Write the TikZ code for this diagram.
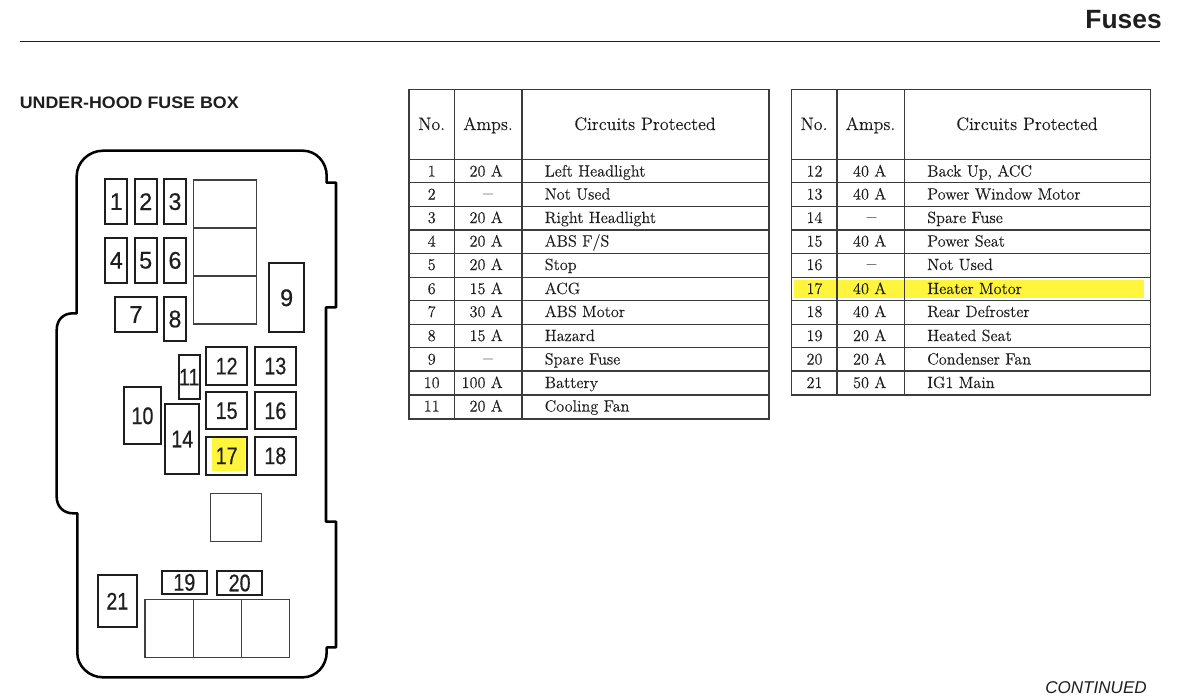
\documentclass[tikz,border=0pt]{standalone}
\usepackage{fontspec}
\setmainfont{Latin Modern Roman}[FakeBold=0.2]
\newfontfamily\sansf{Liberation Sans}
\newfontfamily\numf{Liberation Sans}[FakeStretch=0.97,FakeBold=0.5]
\newfontfamily\numn{Liberation Sans}[FakeStretch=0.82,FakeBold=0.5]
\newfontfamily\titlef{Liberation Sans}[FakeStretch=1.07]
\definecolor{hl}{RGB}{255,245,60}
\definecolor{ink}{RGB}{30,30,30}
\definecolor{tline}{RGB}{60,60,60}
\newcommand{\fz}[1]{\fontsize{#1}{#1}\selectfont}
\newcommand{\nodash}{{\fz{15.5}--}\hspace*{7.5pt}}
\tikzset{
  x=0.75pt,y=-0.75pt,
  fuse/.style={draw=ink,line width=1.6pt,line join=miter},
  relay/.style={draw=ink!85,line width=0.8pt},
  fusenum/.style={font=\numf\fz{18},text=ink,inner sep=0pt,anchor=center},
  fusenumw/.style={font=\numn\fz{18},text=ink,inner sep=0pt,anchor=center},
  tcell/.style={font=\fz{12.2},text=ink,inner sep=0pt,anchor=base},
  tamps/.style={font=\fz{12.2},text=ink,inner sep=0pt,anchor=base east},
  tleft/.style={font=\fz{12.2},text=ink,inner sep=0pt,anchor=base west},
  thead/.style={font=\fz{13.5},text=ink,inner sep=0pt,anchor=base},
  tgrid/.style={draw=tline,line width=0.8pt},
}
% \fusebox{name}{x0}{y0}{x1}{y1}{label}
\newcommand{\fusebox}[6]{%
  \draw[fuse] (#2,#3) rectangle (#4,#5);
  \node[fusenum] (#1) at ({(#2+#4)/2},{(#3+#5)/2}) {#6};
}
\newcommand{\fuseboxw}[6]{%
  \draw[fuse] (#2,#3) rectangle (#4,#5);
  \node[fusenumw] (#1) at ({(#2+#4)/2},{(#3+#5)/2}) {#6};
}
% \trow{y baseline}{x1}{x2}{x3}{no}{amps}{circuit}
\newcommand{\trow}[7]{%
  \node[tcell] at (#2,#1) {#5};
  \node[tamps] at (#3,#1) {#6};
  \node[tleft] at (#4,#1) {#7};
}
\newcommand{\tgridlines}[5]{%
  \draw[tgrid] (#1,89.3) rectangle (#4,#5);
  \draw[tgrid] (#2,89.3) -- (#2,#5);
  \draw[tgrid] (#3,89.3) -- (#3,#5);
  \foreach \yy in {159.3,182.7,206.7,230,253.3,277.3,300.7,324.3,347.7,371,395}{
    \ifdim \yy pt<#5 pt \draw[tgrid] (#1,\yy) -- (#4,\yy);\fi
  }
}
\begin{document}
\begin{tikzpicture}
\useasboundingbox (0,0) rectangle (1184,697);
\clip (0,0) rectangle (1184,697);
\fill[white] (0,0) rectangle (1184,697);
% header
\node[font=\sansf\bfseries\fz{19.8},text=ink,inner sep=0pt,anchor=base east] (fuses) at (1162,28) {Fuses};
\coordinate (ruleL) at (20,41);
\coordinate (ruleR) at (1160,41);
\draw[draw=ink,line width=0.6pt] (ruleL) -- (ruleR);
\node[font=\titlef\bfseries\fz{12.5},text=ink,inner sep=0pt,anchor=base west] (title) at (19.5,108) {UNDER-HOOD FUSE BOX};
\node[font=\sansf\itshape\fz{12.8},text=ink,inner sep=0pt,anchor=base east] (cont) at (1147,693) {CONTINUED};
% outline
\draw[draw=black,line width=1.9pt,line join=round]
 (103,150.7) -- (303,150.7)
 .. controls (316,150.7) and (326.7,162) .. (326.7,176) -- (326.7,182.7)
 -- (336,182.7) -- (336,307.3) -- (326,307.3) -- (326,521.7) -- (336,521.7)
 -- (336,647.3) -- (326.7,647.3) -- (326.7,652)
 .. controls (326.7,666) and (316,677.3) .. (303,677.3)
 -- (103,677.3)
 .. controls (89,677.3) and (77.3,666) .. (77.3,653)
 -- (77.3,513.3) -- (73,513.3)
 .. controls (63,513.3) and (56.7,506) .. (56.7,497)
 -- (56.7,330)
 .. controls (56.7,320) and (63,313.3) .. (73,313.3) -- (76.7,313.3)
 -- (76.7,176)
 .. controls (76.7,162) and (89,150.7) .. (103,150.7) -- cycle;
% highlight
\fill[hl] (212.3,438.3) rectangle (245,470.7);
% relays
\draw[relay] (193.7,180) rectangle (256.7,324);
\draw[relay] (193.7,228) -- (256.7,228);
\draw[relay] (193.7,276) -- (256.7,276);
\draw[relay] (210.7,493.3) rectangle (261.7,541.3);
\draw[relay] (145,599.3) rectangle (289.3,657.3);
\draw[relay] (193.3,599.3) -- (193.3,657.3);
\draw[relay] (241.3,599.3) -- (241.3,657.3);
% fuses
\fusebox{f1}{105.3}{179.3}{127.3}{224}{1}
\fusebox{f2}{134.7}{179.3}{156.7}{224}{2}
\fusebox{f3}{164}{179.3}{186}{224}{3}
\fusebox{f4}{105.3}{238}{127.3}{282.7}{4}
\fusebox{f5}{134.7}{238}{156.7}{282.7}{5}
\fusebox{f6}{164}{238}{186}{282.7}{6}
\fusebox{f7}{115.3}{296.7}{156.7}{332.3}{7}
\fusebox{f8}{164}{296.7}{186}{341.3}{8}
\fusebox{f9}{269.3}{263.3}{304}{332.3}{9}
\fuseboxw{f10}{123.7}{387.3}{161.3}{444.3}{10}
\fuseboxw{f11}{178.7}{355}{199.7}{399.3}{11}
\fuseboxw{f12}{206}{347.3}{247.3}{384.7}{12}
\fuseboxw{f13}{254.7}{347.3}{296}{384.7}{13}
\fuseboxw{f14}{165.3}{404.3}{199.3}{473.7}{14}
\fuseboxw{f15}{206}{392.3}{247.3}{429.3}{15}
\fuseboxw{f16}{254.7}{392.3}{296}{429.3}{16}
\fuseboxw{f17}{206}{437}{247.3}{474.7}{17}
\fuseboxw{f18}{254.7}{437}{296}{474.7}{18}
\fuseboxw{f19}{162}{570.7}{206.7}{594}{19}
\fuseboxw{f20}{217.3}{571.3}{262}{594.7}{20}
\fuseboxw{f21}{98}{575}{136.7}{627.3}{21}
% right table highlight
\fill[hl] (794,280) rectangle (1144.3,298.3);
% tables
\tgridlines{409}{454.3}{522}{769}{419}
\draw[tgrid] (409,419) -- (769,419);
\draw[tgrid] (409,395) -- (769,395);
\tgridlines{791.3}{837}{904.3}{1150.7}{395}
\draw[tgrid] (791.3,395) -- (1150.7,395);
\node[thead] at (431.7,130) {No.};
\node[thead] at (488,130) {Amps.};
\node[thead] at (645,130) {Circuits Protected};
\node[thead] at (814,130) {No.};
\node[thead] at (870.5,130) {Amps.};
\node[thead] at (1027,130) {Circuits Protected};
\foreach \by/\n/\a/\c in {
 176.5/1/20 A/Left Headlight,
 199.5/2/\nodash/Not Used,
 223/3/20 A/Right Headlight,
 246.5/4/20 A/ABS F\slash S,
 270/5/20 A/Stop,
 294/6/15 A/ACG,
 317/7/30 A/ABS Motor,
 341/8/15 A/Hazard,
 364.5/9/\nodash/Spare Fuse,
 388/10/100 A/Battery,
 411.5/11/20 A/Cooling Fan}{
 \trow{\by}{431.7}{503}{544.5}{\n}{\a}{\c}
}
\foreach \by/\n/\a/\c in {
 176.5/12/40 A/{Back Up, ACC},
 199.5/13/40 A/Power Window Motor,
 223/14/\nodash/Spare Fuse,
 246.5/15/40 A/Power Seat,
 270/16/\nodash/Not Used,
 294/17/40 A/Heater Motor,
 317/18/40 A/Rear Defroster,
 341/19/20 A/Heated Seat,
 364.5/20/20 A/Condenser Fan,
 388/21/50 A/IG1 Main}{
 \trow{\by}{814.5}{886.5}{927}{\n}{\a}{\c}
}
\end{tikzpicture}
\end{document}
